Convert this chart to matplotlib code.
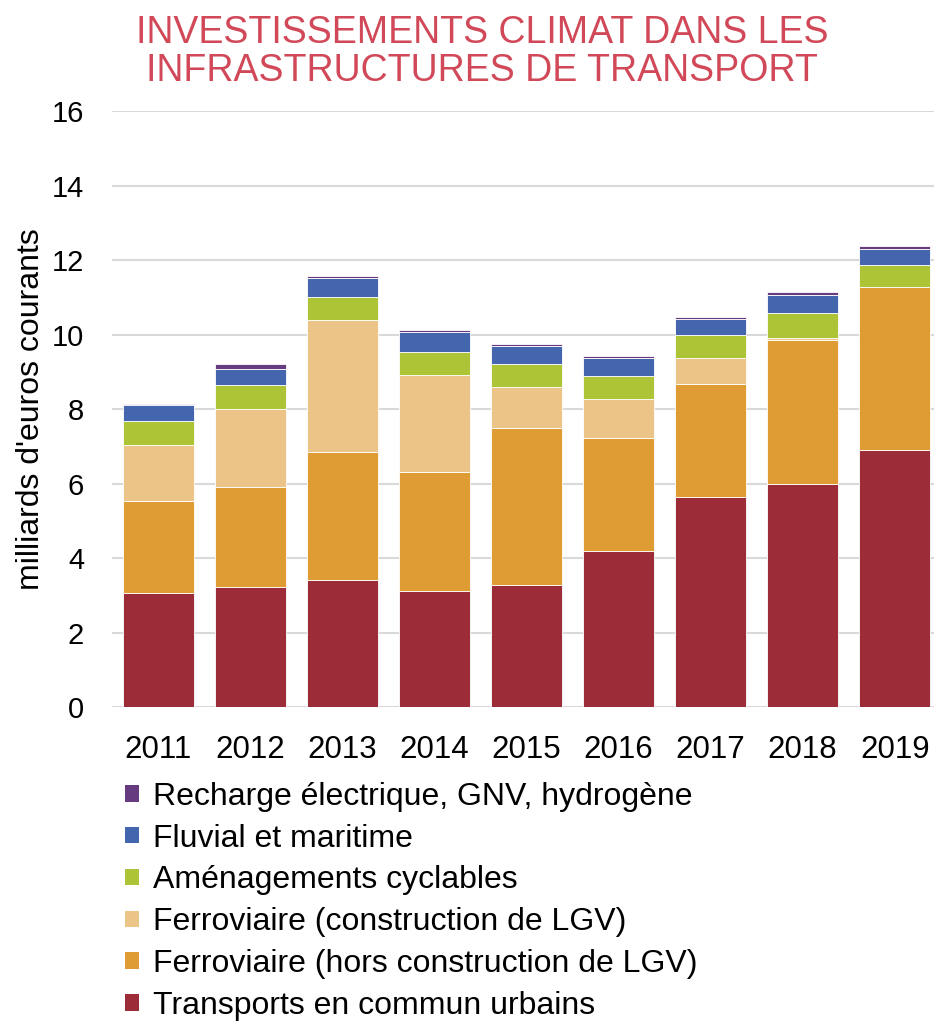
import numpy as np
import matplotlib
matplotlib.use("Agg")
from matplotlib import pyplot as plt
from matplotlib.patches import Patch

plt.rcParams['font.family'] = ['Liberation Sans', 'DejaVu Sans']

# data (milliards d'euros courants)
years = ['2011', '2012', '2013', '2014', '2015', '2016', '2017', '2018', '2019']
urbains   = [3.07, 3.23, 3.42, 3.12, 3.28, 4.20, 5.64, 6.00, 6.89]
hors_lgv  = [2.47, 2.67, 3.43, 3.20, 4.22, 3.03, 3.03, 3.86, 4.38]
lgv       = [1.50, 2.11, 3.53, 2.59, 1.09, 1.03, 0.69, 0.05, 0.00]
cyclables = [0.63, 0.63, 0.63, 0.63, 0.62, 0.63, 0.62, 0.67, 0.60]
fluvial   = [0.45, 0.43, 0.52, 0.53, 0.47, 0.47, 0.44, 0.48, 0.42]
recharge  = [0.02, 0.14, 0.05, 0.05, 0.06, 0.07, 0.05, 0.09, 0.09]

series = [
    ('Transports en commun urbains', urbains, '#9C2D38'),
    ('Ferroviaire (hors construction de LGV)', hors_lgv, '#DF9C35'),
    ('Ferroviaire (construction de LGV)', lgv, '#ECC488'),
    ('Aménagements cyclables', cyclables, '#ADC437'),
    ('Fluvial et maritime', fluvial, '#4466AE'),
    ('Recharge électrique, GNV, hydrogène', recharge, '#673B80'),
]

fig = plt.figure(figsize=(9.34, 10.21), dpi=100)
ax = fig.add_axes([112/934, 1-707/1021, 1-112/934, (707-111)/1021])

x = np.arange(len(years))
bottom = np.zeros(len(years))
handles = []
for name, vals, col in series:
    ax.bar(x, vals, width=0.77, bottom=bottom, color=col,
           edgecolor='white', linewidth=0.6, zorder=3)
    bottom += np.array(vals)
    handles.append(Patch(facecolor=col, edgecolor='none', label=name))

ax.set_ylim(0, 16)
ax.set_yticks(range(0, 17, 2))
ax.set_xlim(-0.5, 8.426)
ax.set_xticks(x)
ax.set_xticklabels(years)
ax.grid(axis='y', color='#D9D9D9', linewidth=1.5, zorder=0)
ax.set_axisbelow(True)
for s in ax.spines.values():
    s.set_visible(False)
ax.tick_params(axis='y', length=0, pad=20, labelsize=21)
ax.tick_params(axis='x', length=0, pad=20, labelsize=22.5)

ax.set_ylabel("milliards d'euros courants", fontsize=23, labelpad=4)

fig.text(0.516, 0.985, 'INVESTISSEMENTS CLIMAT DANS LES\nINFRASTRUCTURES DE TRANSPORT',
         ha='center', va='top', fontsize=27, color='#D14959', linespacing=1.05)

fig.legend(handles=handles[::-1], loc='upper left', bbox_to_anchor=(0.117, 0.25),
           frameon=False, fontsize=23, handlelength=0.42, handleheight=0.42,
           handletextpad=0.45, labelspacing=0.37, borderpad=0)

fig.savefig('out.png', dpi=100)
